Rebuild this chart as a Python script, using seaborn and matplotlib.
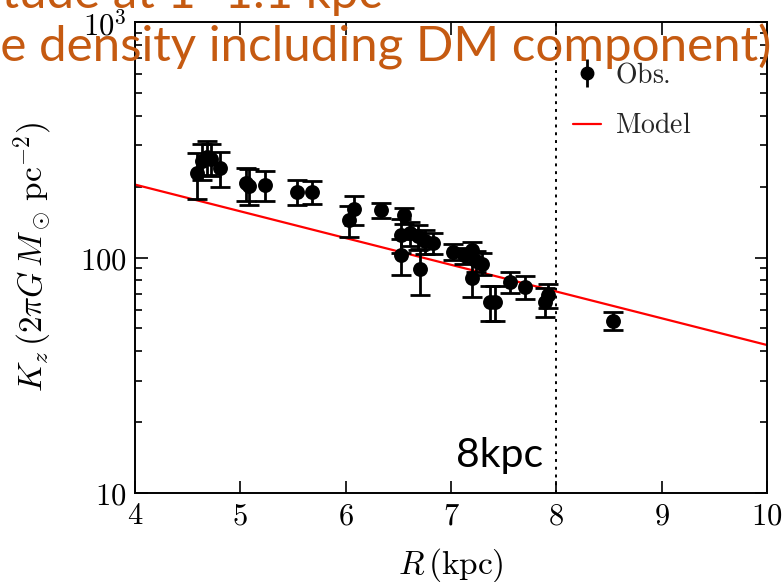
import numpy as np
import pandas as pd
import matplotlib
matplotlib.use("Agg")
import matplotlib.pyplot as plt
from matplotlib.ticker import FixedLocator, FixedFormatter, NullFormatter, NullLocator
from matplotlib.lines import Line2D
import seaborn as sns

# Observed vertical force K_z at |z| = 1.0-1.1 kpc
R_obs = [4.59, 4.64, 4.68, 4.72, 4.81, 5.05, 5.08, 5.23, 5.54, 5.68,
         6.03, 6.08, 6.34, 6.53, 6.53, 6.55, 6.61, 6.69, 6.71, 6.75,
         6.83, 7.02, 7.12, 7.20, 7.20, 7.24, 7.29, 7.37, 7.42, 7.56,
         7.70, 7.89, 7.92, 8.54]
K_obs = [228, 258, 268, 262, 240, 207, 202, 204, 190, 190,
         144, 160, 159, 125, 102, 151, 127, 123, 89, 117,
         115, 106, 102, 108, 82, 97, 94, 65, 65, 79,
         75, 65, 69, 54]
K_err = [50, 45, 45, 40, 40, 34, 35, 30, 23, 22,
         22, 22, 12, 20, 18, 12, 15, 15, 20, 14,
         12, 8, 8, 8, 14, 10, 10, 11, 11, 8,
         8.5, 9, 8, 4.7]

# Exponential disc model (straight line on a log axis)
R_model = [4.0, 10.0]
K_model = [204.0, 42.5]

R_sun = 8.0
x_ticks = [4, 5, 6, 7, 8, 9, 10]
y_ticks = [10, 100, 1000]
y_tick_labels = [r"$10$", r"$100$", r"$10^3$"]

obs = pd.DataFrame({"R": R_obs, "Kz": K_obs, "err": K_err})
model = pd.DataFrame({"R": R_model, "Kz": K_model})

sns.set_theme(style="ticks")
plt.rcParams["mathtext.fontset"] = "cm"
plt.rcParams["font.family"] = ["Lato", "DejaVu Sans"]

W, H = 784, 582
fig = plt.figure(figsize=(W / 100, H / 100), dpi=100)
ax = fig.add_axes([135 / W, 1 - 493 / H, 632 / W, 471 / H])

ax.errorbar(obs["R"], obs["Kz"], yerr=obs["err"], fmt="none",
            ecolor="black", elinewidth=2.0, capsize=7, capthick=2.0, zorder=3)
sns.scatterplot(data=obs, x="R", y="Kz", ax=ax, color="black", s=115,
                edgecolor="black", linewidth=0, zorder=4, legend=False)
sns.lineplot(data=model, x="R", y="Kz", ax=ax, color="red", lw=1.6, zorder=2)
ax.axvline(R_sun, color="black", ls=(0, (1.5, 2.5)), lw=1.4, zorder=1)

ax.set_yscale("log")
ax.set_xlim(4, 10)
ax.set_ylim(10, 1000)

ax.xaxis.set_major_locator(FixedLocator(x_ticks))
ax.xaxis.set_major_formatter(FixedFormatter([rf"${t}$" for t in x_ticks]))
ax.xaxis.set_minor_locator(NullLocator())
ax.yaxis.set_major_locator(FixedLocator(y_ticks))
ax.yaxis.set_major_formatter(FixedFormatter(y_tick_labels))
minor_y = [m * d for d in (10, 100) for m in range(2, 10)]
ax.yaxis.set_minor_locator(FixedLocator(minor_y))
ax.yaxis.set_minor_formatter(NullFormatter())

ax.tick_params(which="both", direction="in", top=True, right=True,
               color="black", width=1.2)
ax.tick_params(which="major", length=9, labelsize=22, pad=6, labelcolor="black")
ax.tick_params(which="minor", length=5)
for s in ax.spines.values():
    s.set_linewidth(1.4)
    s.set_color("black")

ax.set_xlabel(r"$R\,(\mathrm{kpc})$", fontsize=24, color="black", labelpad=12)
ax.set_ylabel(r"$K_z\,(2\pi G\,M_\odot\,\mathrm{pc}^{-2})$", fontsize=24,
              color="black", labelpad=18)

# Legend
h_obs = ax.errorbar([], [], yerr=[], fmt="o", color="black", ms=9,
                    elinewidth=2, capsize=5, capthick=2)
h_mod = Line2D([], [], color="red", lw=1.6)
ax.legend([h_obs, h_mod], [r"$\mathrm{Obs.}$", r"$\mathrm{Model}$"],
          loc="upper right", bbox_to_anchor=((702 - 135) / 632, 0.94),
          frameon=False, fontsize=20, handlelength=1.0, handletextpad=0.5,
          labelspacing=0.9, borderaxespad=0.0)

fig.text(543 / W, 1 - 467 / H, "8kpc", ha="right", va="baseline",
         fontsize=29.5, color="black")

orange = "#C55A11"
fig.text(771 / W, 1 - 62 / H, "(surface density including DM component)",
         ha="right", va="baseline", fontsize=35.5, color=orange)
fig.text(382 / W, 1 - 8 / H, "Kz at altitude at 1~1.1 kpc",
         ha="right", va="baseline", fontsize=35.5, color=orange)

fig.savefig("out.png", dpi=100)
